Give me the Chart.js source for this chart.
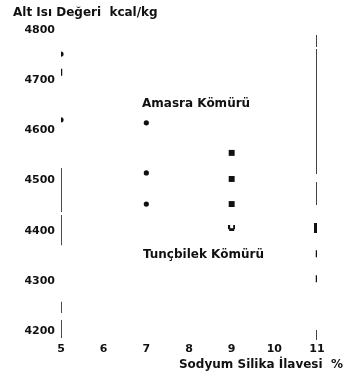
<!DOCTYPE html>
<html>
<head>
<meta charset="utf-8">
<script src="https://cdn.jsdelivr.net/npm/chart.js@4/dist/chart.umd.min.js"></script>
<style>
  html, body { margin: 0; padding: 0; background: #fff; }
  #wrap { width: 349px; height: 383px; }
</style>
</head>
<body>
<div id="wrap"><canvas id="c" width="349" height="383"></canvas></div>
<script>
// Axis ticks
const xTicks = [5, 6, 7, 8, 9, 10, 11];
const yTicks = [4200, 4300, 4400, 4500, 4600, 4700, 4800];

// Measurements (Sodyum Silika İlavesi %, Alt Isı Değeri kcal/kg), grouped by marker
const dotX = [5, 5, 7, 7, 7];
const dotY = [4752, 4621, 4615, 4515, 4453];
const squareX = [9, 9, 9];
const squareY = [4555, 4503, 4453];
const blockX = [11];
const blockY = [4405];
const cupX = [9];
const cupY = [4405];
const dashX = [5, 11, 11];
const dashY = [4716, 4354, 4304];

// Frame rule pieces (value ranges along x = 5 and x = 11)
const leftRule = [[4525, 4437], [4431, 4371], [4258, 4236], [4222, 4186]];
const rightRule = [[4790, 4766], [4762, 4513], [4497, 4451], [4202, 4182]];

// Series names and axis titles
const seriesNames = ['Amasra Kömürü', 'Tunçbilek Kömürü'];
const yTitle = 'Alt Isı Değeri  kcal/kg';
const xTitle = 'Sodyum Silika İlavesi  %';

const ink = '#111';

function pts(xs, ys) { return xs.map((x, i) => ({ x: x, y: ys[i] })); }
function rule(x, pieces) {
  const out = [];
  pieces.forEach(p => { out.push({ x: x, y: p[0] }, { x: x, y: p[1] }, { x: x, y: null }); });
  return out;
}

// Tall block marker
const blockImg = document.createElement('canvas');
blockImg.width = 6; blockImg.height = 10;
(function () {
  const g = blockImg.getContext('2d');
  g.fillStyle = ink; g.fillRect(0, 0, 6, 10);
  g.fillStyle = '#fff'; g.fillRect(4, 3, 2, 1); g.fillRect(4, 6, 2, 1);
})();

// Cup-shaped marker
const cupImg = document.createElement('canvas');
cupImg.width = 7; cupImg.height = 6;
(function () {
  const g = cupImg.getContext('2d');
  g.fillStyle = ink;
  g.fillRect(0, 0, 2, 4); g.fillRect(5, 0, 2, 4); g.fillRect(1, 3, 5, 3);
})();

// Name labels, anchored in data units
const nameAnchors = [{ x: 6.9, y: 4652 }, { x: 6.92, y: 4352 }];

const textPlugin = {
  id: 'texts',
  afterDraw(chart) {
    const ctx = chart.ctx;
    const xs = chart.scales.x, ys = chart.scales.y;
    ctx.save();
    ctx.fillStyle = ink;
    ctx.textBaseline = 'middle';
    ctx.font = "bold 12px 'DejaVu Sans'";
    seriesNames.forEach((t, i) => {
      ctx.textAlign = 'left';
      ctx.fillText(t, xs.getPixelForValue(nameAnchors[i].x), ys.getPixelForValue(nameAnchors[i].y));
    });
    ctx.font = "bold 12px 'DejaVu Sans'";
    ctx.textAlign = 'left';
    ctx.fillText(yTitle, 13, 13);
    ctx.textAlign = 'right';
    ctx.fillText(xTitle, chart.width - 6, 365);
    ctx.restore();
  }
};

const tickFont = { family: 'DejaVu Sans', size: 11, weight: 'bold' };

new Chart(document.getElementById('c'), {
  type: 'scatter',
  data: {
    datasets: [
      { data: rule(5, leftRule), showLine: true, spanGaps: false, borderColor: ink, borderWidth: 1.5, pointRadius: 0 },
      { data: rule(11, rightRule), showLine: true, spanGaps: false, borderColor: '#444', borderWidth: 2, pointRadius: 0 },
      { data: pts(dotX, dotY), pointStyle: 'circle', pointRadius: 2.6, backgroundColor: ink, borderColor: ink, borderWidth: 0 },
      { data: pts(squareX, squareY), pointStyle: 'rect', pointRadius: 4.2, backgroundColor: ink, borderColor: ink, borderWidth: 0 },
      { data: pts(blockX, blockY), pointStyle: blockImg },
      { data: pts(cupX, cupY), pointStyle: cupImg },
      { data: pts(dashX, dashY), pointStyle: 'line', rotation: 90, pointRadius: 3.5, borderColor: ink, borderWidth: 2.5 }
    ]
  },
  options: {
    responsive: false,
    animation: false,
    layout: { padding: { top: 30, right: 32, left: 0, bottom: 0 } },
    plugins: { legend: { display: false }, tooltip: { enabled: false } },
    scales: {
      x: {
        type: 'linear', min: 5, max: 11,
        afterBuildTicks: s => { s.ticks = xTicks.map(v => ({ value: v })); },
        afterFit: s => { s.height = 42; },
        grid: { display: false, drawTicks: false },
        border: { display: false },
        ticks: { color: ink, font: tickFont, padding: 2, maxRotation: 0, autoSkip: false, callback: v => String(v) }
      },
      y: {
        type: 'linear', min: 4180, max: 4800,
        afterBuildTicks: s => { s.ticks = yTicks.map(v => ({ value: v })); },
        afterFit: s => { s.width = 61; },
        grid: { display: false, drawTicks: false },
        border: { display: false },
        ticks: { color: ink, font: tickFont, padding: 6, autoSkip: false, callback: v => String(v) }
      }
    }
  },
  plugins: [textPlugin]
});
</script>
</body>
</html>
